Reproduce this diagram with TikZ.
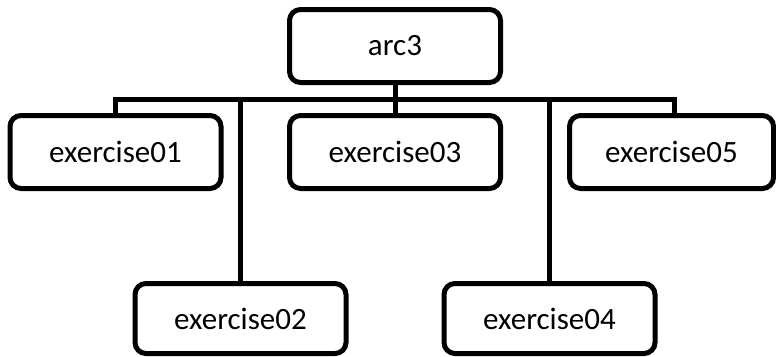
\documentclass[tikz,border=0pt]{standalone}
\usepackage{fontspec}
\setmainfont{Carlito}
\begin{document}
\begin{tikzpicture}[x=1pt,y=-1pt,
  box/.style={draw=black,line width=5pt,rounded corners=11pt,fill=white,
    minimum width=211pt,minimum height=73pt,inner sep=0pt,
    font=\fontsize{31}{37}\selectfont},
  link/.style={draw=black,line width=5pt}]
  \useasboundingbox (0,0) rectangle (776,356);

  % boxes
  \node[box] (root) at (395,46) {arc3};
  \node[box] (e1) at (115.5,152) {exercise01};
  \node[box] (e3) at (395,152) {exercise03};
  \node[box,minimum width=204pt] (e5) at (671.5,152) {exercise05};
  \node[box,minimum height=70pt] (e2) at (240.5,318.5) {exercise02};
  \node[box,minimum height=70pt] (e4) at (549.5,318.5) {exercise04};

  % shared horizontal bus
  \coordinate (bus) at (395,99.5);
  \coordinate (e5top) at ([xshift=3pt]e5.north);

  \draw[link] (e1.north) -- (e1.north |- bus) -- (e5top |- bus) -- (e5top);
  \draw[link] (root.south) -- (e3.north);
  \draw[link] (e2.north |- bus) -- (e2.north);
  \draw[link] (e4.north |- bus) -- (e4.north);
\end{tikzpicture}
\end{document}
